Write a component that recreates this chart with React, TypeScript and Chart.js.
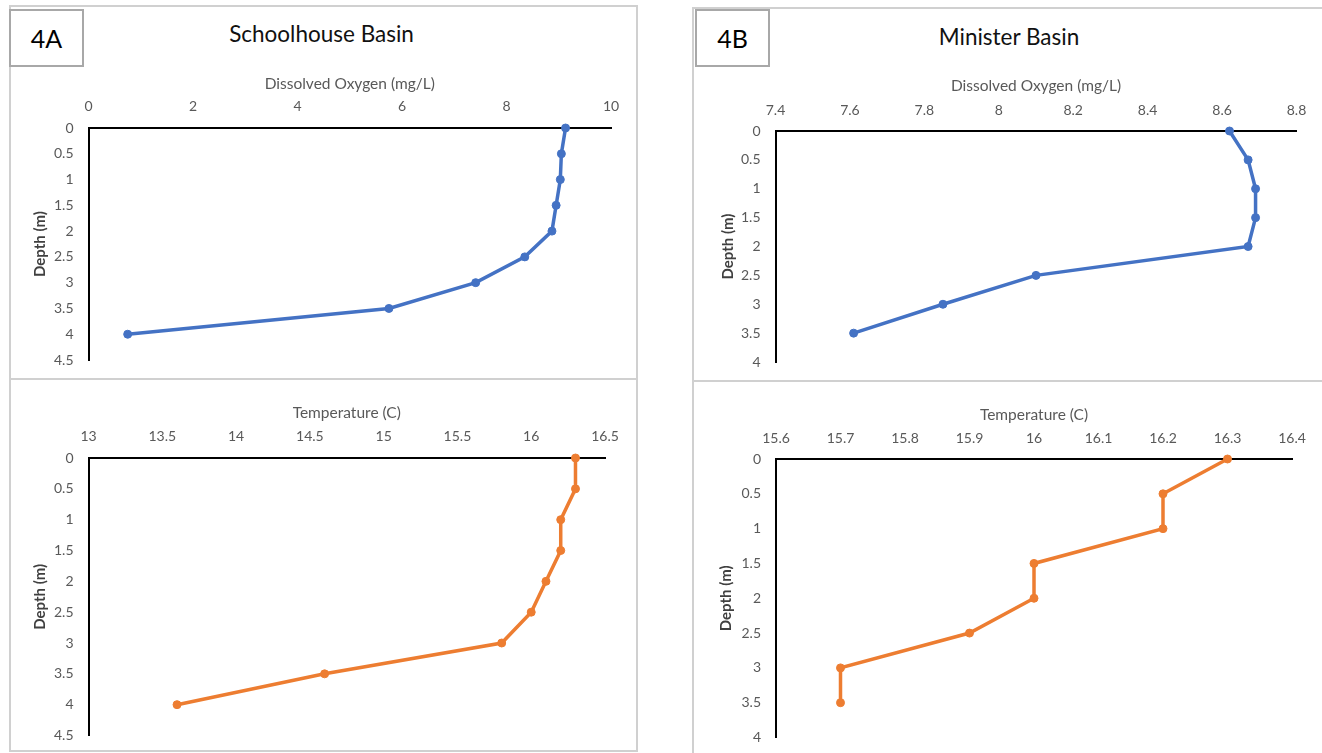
import React, { useEffect, useRef } from 'react';
import { Chart, registerables } from 'chart.js';

Chart.register(...registerables);

// ---- Data ----
const DEPTH_A = [0, 0.5, 1, 1.5, 2, 2.5, 3, 3.5, 4];
const DO_A = [9.13, 9.05, 9.03, 8.95, 8.87, 8.35, 7.41, 5.75, 0.75];
const TEMP_A = [16.3, 16.3, 16.2, 16.2, 16.1, 16.0, 15.8, 14.6, 13.6];

const DEPTH_B = [0, 0.5, 1, 1.5, 2, 2.5, 3, 3.5];
const DO_B = [8.62, 8.67, 8.69, 8.69, 8.67, 8.1, 7.85, 7.61];
const TEMP_B = [16.3, 16.2, 16.2, 16.0, 16.0, 15.9, 15.7, 15.7];

// ---- Tick labels ----
const DO_A_TICKS = [0, 2, 4, 6, 8, 10];
const TEMP_A_TICKS = [13, 13.5, 14, 14.5, 15, 15.5, 16, 16.5];
const DO_B_TICKS = [7.4, 7.6, 7.8, 8, 8.2, 8.4, 8.6, 8.8];
const TEMP_B_TICKS = [15.6, 15.7, 15.8, 15.9, 16, 16.1, 16.2, 16.3, 16.4];
const DEPTH_A_TICKS = [0, 0.5, 1, 1.5, 2, 2.5, 3, 3.5, 4, 4.5];
const DEPTH_B_TICKS = [0, 0.5, 1, 1.5, 2, 2.5, 3, 3.5, 4];

const TITLE_A = 'Schoolhouse Basin';
const TITLE_B = 'Minister Basin';
const X_TITLE_DO = 'Dissolved Oxygen (mg/L)';
const X_TITLE_TEMP = 'Temperature (C)';
const Y_TITLE = 'Depth (m)';

const BLUE = '#4472C4';
const ORANGE = '#ED7D31';
const FONT = 'Lato, "Open Sans", sans-serif';
const GREY_TXT = '#595959';

type PanelCfg = {
  plot: { L: number; T: number; R: number; B: number };
  yTitleX: number;
  xTitleY: number;
  xTickPad: number;
  xTitle: string;
  xTicks: number[];
  yTicks: number[];
  xs: number[];
  ys: number[];
  color: string;
};

const X_TITLE_SIZE = 15.5;
const Y_TITLE_SIZE = 15;
const TICK_SIZE = 14;

function Panel({ cfg }: { cfg: PanelCfg }) {
  const ref = useRef<HTMLCanvasElement | null>(null);
  const { plot } = cfg;
  const cl = Math.round(cfg.yTitleX - (Y_TITLE_SIZE * 1.2) / 2);
  const ct = Math.round(cfg.xTitleY - (X_TITLE_SIZE * 1.2) / 2);
  const W = plot.L - cl;
  const H = plot.T - ct;
  const cw = Math.ceil(plot.R - cl + 25);
  const ch = Math.ceil(plot.B - ct + 15);

  useEffect(() => {
    if (!ref.current) return;
    const chart = new Chart(ref.current, {
      type: 'scatter',
      data: {
        datasets: [
          {
            data: cfg.xs.map((x, i) => ({ x, y: cfg.ys[i] })),
            showLine: true,
            borderColor: cfg.color,
            backgroundColor: cfg.color,
            borderWidth: 3.5,
            pointRadius: 4,
            pointBorderWidth: 1,
            pointHoverRadius: 4,
            clip: false as any,
            tension: 0,
          } as any,
        ],
      },
      options: {
        responsive: false,
        animation: false,
        events: [],
        layout: {
          padding: { left: 0, top: 0, right: cw - (plot.R - cl), bottom: ch - (plot.B - ct) },
        },
        plugins: { legend: { display: false }, tooltip: { enabled: false } },
        scales: {
          x: {
            type: 'linear',
            position: 'top',
            min: cfg.xTicks[0],
            max: cfg.xTicks[cfg.xTicks.length - 1],
            afterBuildTicks: (s: any) => {
              s.ticks = cfg.xTicks.map((v) => ({ value: v }));
            },
            afterFit: (s: any) => {
              s.height = H;
              s.paddingLeft = 0;
              s.paddingRight = 0;
            },
            ticks: {
              padding: cfg.xTickPad,
              color: GREY_TXT,
              font: { family: FONT, size: TICK_SIZE },
              autoSkip: false,
              maxRotation: 0,
              callback: (v: any) => String(v),
            },
            grid: { display: false, drawTicks: false },
            border: { display: true, color: '#000', width: 2 },
            title: {
              display: true,
              text: cfg.xTitle,
              color: GREY_TXT,
              font: { family: FONT, size: X_TITLE_SIZE },
              padding: 0,
            },
          },
          y: {
            type: 'linear',
            position: 'left',
            reverse: true,
            min: cfg.yTicks[0],
            max: cfg.yTicks[cfg.yTicks.length - 1],
            afterBuildTicks: (s: any) => {
              s.ticks = cfg.yTicks.map((v) => ({ value: v }));
            },
            afterFit: (s: any) => {
              s.width = W;
              s.paddingTop = 0;
              s.paddingBottom = 0;
            },
            ticks: {
              padding: 15,
              color: GREY_TXT,
              font: { family: FONT, size: TICK_SIZE },
              autoSkip: false,
              callback: (v: any) => String(v),
            },
            grid: { display: false, drawTicks: false },
            border: { display: true, color: '#000', width: 2 },
            title: {
              display: true,
              text: Y_TITLE,
              color: '#404040',
              font: { family: FONT, size: Y_TITLE_SIZE, weight: 'bold' },
              padding: 0,
            },
          },
        },
      } as any,
    });
    return () => chart.destroy();
  }, []);

  return (
    <canvas
      ref={ref}
      width={cw}
      height={ch}
      style={{ position: 'absolute', left: cl, top: ct, width: cw, height: ch }}
    />
  );
}

const PANELS: PanelCfg[] = [
  {
    plot: { L: 88.5, T: 128, R: 611, B: 360 },
    yTitleX: 40,
    xTitleY: 84,
    xTickPad: 13,
    xTitle: X_TITLE_DO,
    xTicks: DO_A_TICKS,
    yTicks: DEPTH_A_TICKS,
    xs: DO_A,
    ys: DEPTH_A,
    color: BLUE,
  },
  {
    plot: { L: 88.5, T: 458, R: 605, B: 735.5 },
    yTitleX: 40,
    xTitleY: 413,
    xTickPad: 13,
    xTitle: X_TITLE_TEMP,
    xTicks: TEMP_A_TICKS,
    yTicks: DEPTH_A_TICKS,
    xs: TEMP_A,
    ys: DEPTH_A,
    color: ORANGE,
  },
  {
    plot: { L: 775.5, T: 131, R: 1296.5, B: 362 },
    yTitleX: 728,
    xTitleY: 86,
    xTickPad: 12.5,
    xTitle: X_TITLE_DO,
    xTicks: DO_B_TICKS,
    yTicks: DEPTH_B_TICKS,
    xs: DO_B,
    ys: DEPTH_B,
    color: BLUE,
  },
  {
    plot: { L: 776, T: 459, R: 1292, B: 737.5 },
    yTitleX: 726,
    xTitleY: 415.5,
    xTickPad: 12.2,
    xTitle: X_TITLE_TEMP,
    xTicks: TEMP_B_TICKS,
    yTicks: DEPTH_B_TICKS,
    xs: TEMP_B,
    ys: DEPTH_B,
    color: ORANGE,
  },
];

const frame = (left: number, top: number, width: number, height: number): React.CSSProperties => ({
  position: 'absolute',
  left,
  top,
  width,
  height,
  boxSizing: 'border-box',
  border: '2px solid #d0d0d0',
});

const labelBox = (left: number, top: number): React.CSSProperties => ({
  position: 'absolute',
  left,
  top,
  width: 75,
  height: 58,
  boxSizing: 'border-box',
  border: '2px solid #a8a8a8',
  background: '#fff',
  display: 'flex',
  alignItems: 'center',
  justifyContent: 'center',
  fontFamily: FONT,
  fontSize: 25,
  color: '#000',
});

const titleStyle = (cx: number, cy: number): React.CSSProperties => ({
  position: 'absolute',
  left: cx,
  top: cy,
  transform: 'translate(-50%, -50%)',
  fontFamily: FONT,
  fontSize: 22.5,
  lineHeight: 1,
  whiteSpace: 'nowrap',
  color: '#111',
});

export default function App() {
  return (
    <div
      style={{
        position: 'fixed',
        left: 0,
        top: 0,
        width: 1322,
        height: 753,
        overflow: 'hidden',
        background: '#fff',
      }}
    >
      <div style={frame(9, 5, 629, 375)} />
      <div style={frame(9, 378, 629, 374)} />
      <div style={frame(692, 7, 700, 375)} />
      <div style={frame(692, 380, 700, 400)} />
      <div style={labelBox(9, 9)}>4A</div>
      <div style={labelBox(695, 9)}>4B</div>
      <div style={titleStyle(321.5, 34)}>{TITLE_A}</div>
      <div style={titleStyle(1009, 37)}>{TITLE_B}</div>
      {PANELS.map((p, i) => (
        <Panel key={i} cfg={p} />
      ))}
    </div>
  );
}
